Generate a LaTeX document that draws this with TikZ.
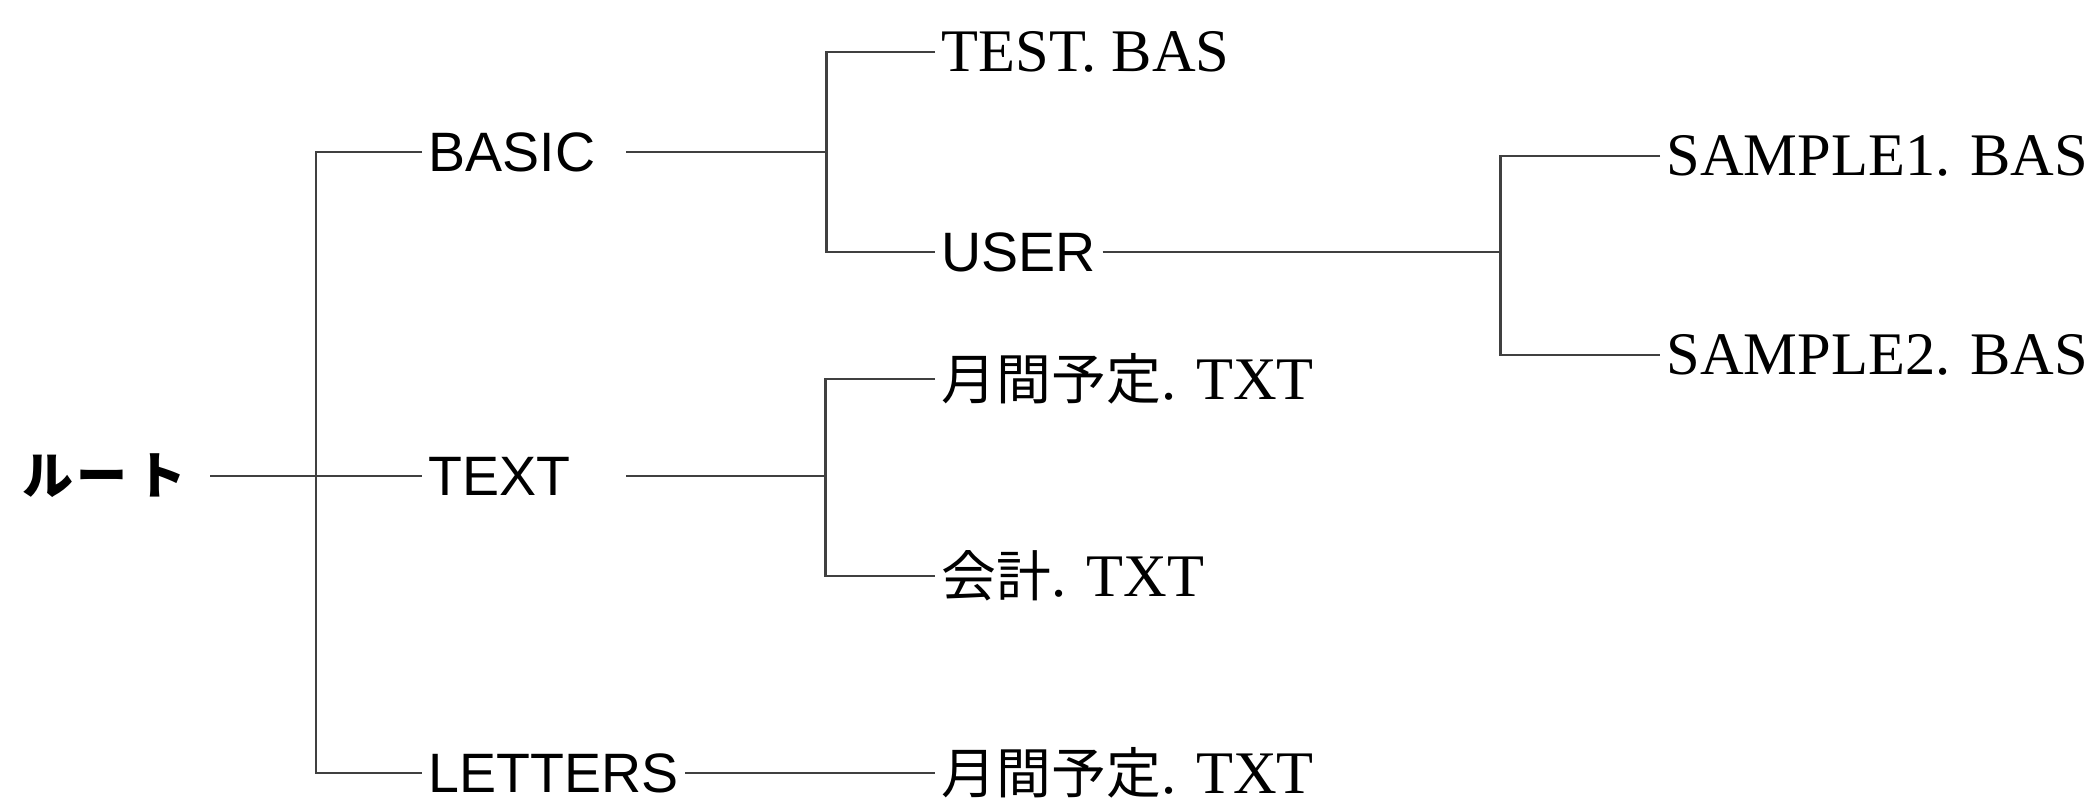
\documentclass[tikz,border=0pt]{standalone}
\usepackage{fontspec}
\setmainfont{Liberation Serif}
\newfontfamily\dirfont{Liberation Sans}
\newfontfamily\jpfont{Noto Sans CJK JP}
\begin{document}
\begin{tikzpicture}[
  x=1cm,y=1cm,
  link/.style={draw=black!75,line width=0.85pt},
  dirnode/.style={anchor=west,inner xsep=0.06cm,inner ysep=0pt,font=\dirfont\fontsize{15.8}{18}\selectfont},
  filenode/.style={anchor=west,inner xsep=0.06cm,inner ysep=0pt,font=\fontsize{17.2}{20}\selectfont},
  rootnode/.style={anchor=west,inner sep=0pt,font=\jpfont\bfseries\fontsize{14.5}{17}\selectfont}
]
\useasboundingbox (0,0) rectangle (20.87,8.02);
% nodes
\node[rootnode] (root) at (0.22,3.26) {ル\hspace{0.03cm}ー\hspace{0.08cm}ト};
\node[dirnode] (basic) at (4.22,6.50) {BASIC};
\node[dirnode] (text) at (4.22,3.26) {TEXT};
\node[dirnode] (letters) at (4.22,0.29) {LETTERS};
\node[filenode] (test) at (9.35,7.50) {TEST. BAS};
\node[dirnode] (user) at (9.35,5.50) {USER};
\node[filenode] (getsu) at (9.35,4.23) {{\jpfont\fontsize{15.6}{19}\selectfont 月間予定}. TXT};
\node[filenode] (kaikei) at (9.35,2.26) {{\jpfont\fontsize{15.6}{19}\selectfont 会計}. TXT};
\node[filenode] (getsu2) at (9.35,0.29) {{\jpfont\fontsize{15.6}{19}\selectfont 月間予定}. TXT};
\node[filenode] (s1) at (16.60,6.46) {SAMPLE1. BAS};
\node[filenode] (s2) at (16.60,4.47) {SAMPLE2. BAS};
% junction coordinates
\coordinate (rootline) at (2.10,3.26);
\coordinate (trunktop) at (3.16,6.50);
\coordinate (trunkbot) at (3.16,0.29);
\coordinate (basicout) at (6.26,6.50);
\coordinate (bj) at (8.26,6.50);
\coordinate (bjtop) at (8.26,7.50);
\coordinate (bjbot) at (8.26,5.50);
\coordinate (textout) at (6.26,3.26);
\coordinate (tj) at (8.25,3.26);
\coordinate (tjtop) at (8.25,4.23);
\coordinate (tjbot) at (8.25,2.26);
\coordinate (uj) at (15.00,5.50);
\coordinate (ujtop) at (15.00,6.46);
\coordinate (ujbot) at (15.00,4.47);
% connectors
\draw[link] (basic.west) -- (trunktop) -- (trunkbot) -- (letters.west);
\draw[link] (rootline) -- (text.west);
\draw[link] (basicout) -- (bj);
\draw[link] (test.west) -- (bjtop) -- (bjbot) -- (user.west);
\draw[link] (user.east) -- (uj);
\draw[link] (s1.west) -- (ujtop) -- (ujbot) -- (s2.west);
\draw[link] (textout) -- (tj);
\draw[link] (getsu.west) -- (tjtop) -- (tjbot) -- (kaikei.west);
\draw[link] (letters.east) -- (getsu2.west);
\end{tikzpicture}
\end{document}
